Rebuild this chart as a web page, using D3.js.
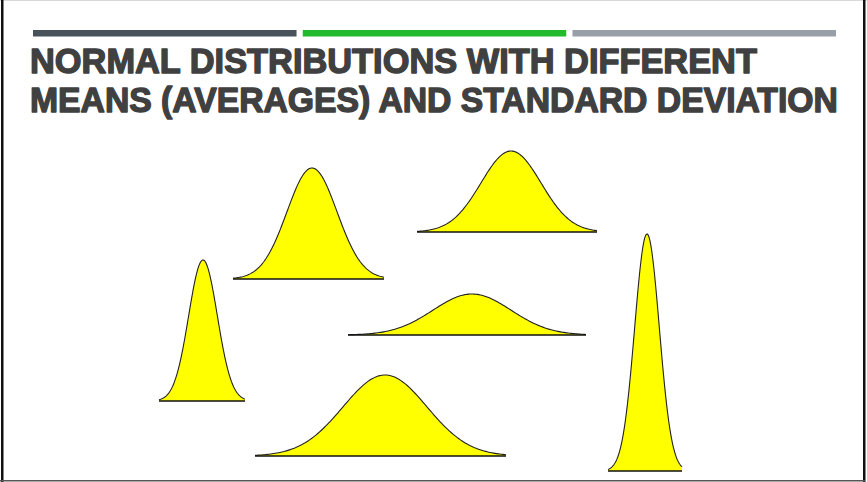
<!DOCTYPE html>
<html>
<head>
<meta charset="utf-8">
<script src="https://cdn.jsdelivr.net/npm/d3@7"></script>
<style>
  html, body { margin: 0; padding: 0; background: #fff; }
  svg { display: block; }
</style>
</head>
<body>
<div id="chart"></div>
<script>
// ---- Data ----
const titleLines = ["NORMAL DISTRIBUTIONS WITH DIFFERENT", "MEANS (AVERAGES) AND STANDARD DEVIATION"];
const accentColors = ["#48525a", "#22b92b", "#989fa8"];

const curveNames = ["A", "B", "C", "D", "E", "F"];
const means     = [7.3, 18.2, 38.1, 34.2, 25.5, 51.7];   // x units
const sds       = [1.43, 2.5, 3.0, 3.9, 4.2, 1.23];       // x units
const lowerEnds = [2.9, 10.3, 28.7, 21.8, 12.5, 47.8];    // x units
const upperEnds = [11.5, 25.4, 46.7, 45.6, 37.6, 55.2];   // x units
const baselines = [7.9, 20.1, 24.8, 14.5, 2.4, 0.9];      // y units
const peaks     = [14.1, 11.1, 8.1, 4.1, 8.1, 23.7];      // y units

const W = 867, H = 482;
const svg = d3.select("#chart").append("svg").attr("width", W).attr("height", H);

// frame
svg.append("rect").attr("x", 0).attr("y", 0).attr("width", W).attr("height", 1).attr("fill", "#d8d8d8");
svg.append("rect").attr("x", 1).attr("y", 0).attr("width", 2.5).attr("height", H).attr("fill", "#111");
svg.append("rect").attr("x", 863).attr("y", 0).attr("width", 2.5).attr("height", H).attr("fill", "#111");
svg.append("rect").attr("x", 0).attr("y", 480).attr("width", 865).attr("height", 1.5).attr("fill", "#555");

// accent bars
const barX = d3.scaleBand().domain(d3.range(accentColors.length)).range([33, 836]).paddingInner(0.023);
svg.selectAll("rect.accent").data(accentColors).join("rect")
  .attr("class", "accent")
  .attr("x", (d, i) => barX(i)).attr("y", 30)
  .attr("width", barX.bandwidth()).attr("height", 6.5)
  .attr("fill", d => d);

// title (condensed by horizontal scaling to the reference widths)
const titleLengths = [727, 808];
const titles = svg.selectAll("text.title").data(titleLines).join("text")
  .attr("class", "title")
  .attr("x", 0)
  .attr("y", 0)
  .attr("font-family", "'Liberation Sans', Arial, sans-serif")
  .attr("font-weight", "bold")
  .attr("font-size", 35)
  .attr("fill", "#404040")
  .attr("stroke", "#404040")
  .attr("stroke-width", 1.4)
  .attr("stroke-linejoin", "round")
  .text(d => d);
titles.each(function(d, i) {
  const bb = this.getBBox();
  const sx = titleLengths[i] / bb.width;
  d3.select(this).attr("transform",
    `translate(${30 - bb.x * sx}, ${72.5 + i * 39}) scale(${sx}, 1)`);
});

// scales
const x = d3.scaleLinear().domain([0, 60]).range([130, 730]);
const y = d3.scaleLinear().domain([0, 35]).range([480, 130]);

const curves = curveNames.map((n, i) => ({
  name: n, mean: means[i], sd: sds[i], lo: lowerEnds[i], hi: upperEnds[i],
  base: baselines[i], peak: peaks[i]
}));

curves.forEach(c => {
  const n = 160;
  const pts = d3.range(n + 1).map(k => {
    const xv = c.lo + (c.hi - c.lo) * k / n;
    const z = (xv - c.mean) / c.sd;
    return [xv, c.base + c.peak * Math.exp(-0.5 * z * z)];
  });
  const area = d3.area().x(d => x(d[0])).y0(y(c.base)).y1(d => y(d[1]));
  const line = d3.line().x(d => x(d[0])).y(d => y(d[1]));
  const g = svg.append("g").attr("class", "curve-" + c.name);
  g.append("path").datum(pts).attr("d", area).attr("fill", "#ffff00").attr("stroke", "none");
  g.append("path").datum(pts).attr("d", line).attr("fill", "none")
    .attr("stroke", "#222").attr("stroke-width", 1.1);
  g.append("line")
    .attr("x1", x(c.lo)).attr("x2", x(c.hi))
    .attr("y1", y(c.base)).attr("y2", y(c.base))
    .attr("stroke", "#111").attr("stroke-width", 1.5);
});
</script>
</body>
</html>
